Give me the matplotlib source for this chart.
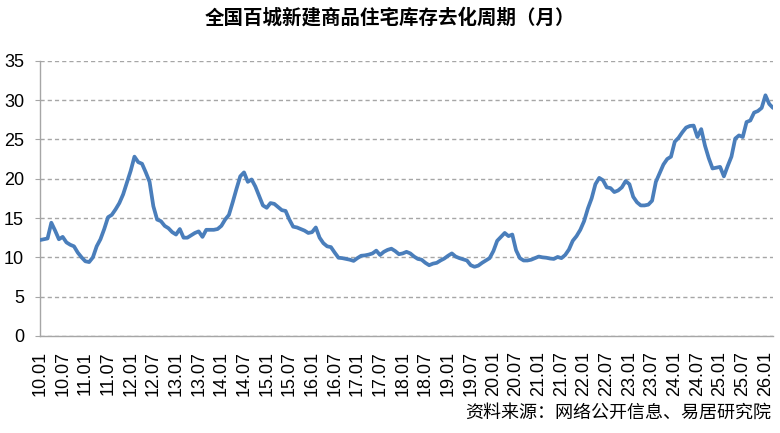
import matplotlib
matplotlib.use('Agg')
import matplotlib.pyplot as plt

# 全国百城新建商品住宅库存去化周期（月），2010.01 - 2026.03 monthly
values_2010 = [12.2, 12.3, 12.4, 14.4, 13.4, 12.3, 12.6, 11.9, 11.6, 11.4, 10.6, 10.0]
values_2011 = [9.5, 9.4, 10.0, 11.4, 12.3, 13.6, 15.1, 15.4, 16.1, 16.9, 18.0, 19.5]
values_2012 = [21.0, 22.8, 22.1, 21.9, 20.8, 19.6, 16.5, 14.8, 14.6, 14.0, 13.7, 13.2]
values_2013 = [12.9, 13.6, 12.5, 12.5, 12.8, 13.1, 13.3, 12.6, 13.5, 13.5, 13.5, 13.6]
values_2014 = [14.0, 14.8, 15.4, 17.0, 18.7, 20.3, 20.8, 19.6, 19.9, 19.0, 17.8, 16.6]
values_2015 = [16.3, 16.9, 16.8, 16.4, 16.0, 15.9, 14.8, 13.9, 13.8, 13.6, 13.4, 13.1]
values_2016 = [13.2, 13.8, 12.5, 11.8, 11.4, 11.3, 10.6, 9.95, 9.9, 9.8, 9.7, 9.55]
values_2017 = [9.9, 10.2, 10.25, 10.35, 10.5, 10.85, 10.3, 10.7, 10.95, 11.1, 10.8, 10.4]
values_2018 = [10.5, 10.7, 10.5, 10.1, 9.8, 9.7, 9.3, 9.0, 9.2, 9.3, 9.6, 9.85]
values_2019 = [10.2, 10.5, 10.1, 9.9, 9.75, 9.6, 9.0, 8.8, 8.95, 9.3, 9.6, 9.9]
values_2020 = [10.8, 12.1, 12.6, 13.1, 12.7, 12.9, 10.9, 9.9, 9.6, 9.6, 9.7, 9.9]
values_2021 = [10.1, 10.0, 9.95, 9.85, 9.8, 10.05, 9.9, 10.3, 11.0, 12.1, 12.7, 13.5]
values_2022 = [14.6, 16.2, 17.5, 19.3, 20.1, 19.8, 18.9, 18.8, 18.3, 18.5, 18.9, 19.7]
values_2023 = [19.3, 17.7, 17.0, 16.6, 16.6, 16.7, 17.2, 19.6, 20.7, 21.8, 22.5, 22.8]
values_2024 = [24.7, 25.2, 25.9, 26.5, 26.7, 26.75, 25.3, 26.3, 24.2, 22.6, 21.3, 21.4]
values_2025 = [21.5, 20.3, 21.6, 22.8, 25.1, 25.5, 25.3, 27.2, 27.4, 28.4, 28.6, 29.0]
values_2026 = [30.6, 29.5, 29.0]

values = (values_2010 + values_2011 + values_2012 + values_2013 + values_2014 +
          values_2015 + values_2016 + values_2017 + values_2018 + values_2019 +
          values_2020 + values_2021 + values_2022 + values_2023 + values_2024 +
          values_2025 + values_2026)

tick_labels = ['10.01', '10.07', '11.01', '11.07', '12.01', '12.07', '13.01', '13.07',
               '14.01', '14.07', '15.01', '15.07', '16.01', '16.07', '17.01', '17.07',
               '18.01', '18.07', '19.01', '19.07', '20.01', '20.07', '21.01', '21.07',
               '22.01', '22.07', '23.01', '23.07', '24.01', '24.07', '25.01', '25.07',
               '26.01']
y_ticks = [0, 5, 10, 15, 20, 25, 30, 35]

title = '全国百城新建商品住宅库存去化周期（月）'
source = '资料来源：网络公开信息、易居研究院'

W, H = 780, 433
fig = plt.figure(figsize=(W / 100, H / 100), dpi=100)
ax = fig.add_axes([40 / W, 1 - 336 / H, 733 / W, (336 - 60.7) / H])

x = list(range(len(values)))
ax.plot(x, values, color='#4A7EBB', lw=2.7, solid_joinstyle='round', solid_capstyle='round', zorder=3)

ax.set_xlim(0, len(values) - 1)
ax.set_ylim(0, 35)
ax.set_yticks(y_ticks)
ax.set_yticklabels([str(v) for v in y_ticks], fontsize=13, family='Liberation Sans')
ax.set_xticks(list(range(0, 6 * len(tick_labels), 6)))
ax.set_xticklabels(tick_labels, rotation=90, fontsize=13, family='Liberation Sans')

ax.yaxis.grid(True, linestyle=(0, (3, 2.2)), color='#A6A6A6', lw=1.0)
ax.set_axisbelow(True)
for s in ['top', 'right']:
    ax.spines[s].set_visible(False)
for s in ['left', 'bottom']:
    ax.spines[s].set_color('#A6A6A6')
    ax.spines[s].set_linewidth(1.0)
ax.tick_params(axis='y', length=3.5, color='#A6A6A6', pad=8, labelcolor='black')
ax.tick_params(axis='x', length=0, pad=11, labelcolor='black')

fig.text(0.5, 1 - 18 / H, title, ha='center', va='center', fontsize=14, fontweight='bold',
         family=['Noto Sans CJK SC', 'DejaVu Sans'])
fig.text(771 / W, 1 - 413 / H, source, ha='right', va='center', fontsize=13,
         family=['Noto Sans CJK SC', 'DejaVu Sans'])

fig.savefig('out.png', dpi=100)
